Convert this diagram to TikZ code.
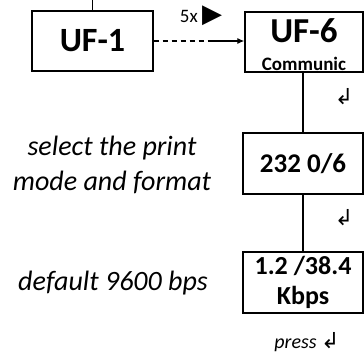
\documentclass[tikz,border=0pt]{standalone}
\usepackage{fontspec}
\setmainfont{Carlito}
\newfontfamily\symfont{DejaVu Sans}
\usetikzlibrary{arrows.meta, positioning}

\begin{document}
\begin{tikzpicture}[
  x=1pt, y=-1pt,
  box/.style={draw, line width=1.3pt, inner sep=0pt, font=\bfseries},
  note/.style={font=\itshape\fontsize{28}{35}\selectfont, align=center},
  link/.style={line width=1.2pt},
  ret/.style={font=\symfont\fontsize{22}{22}\selectfont}
]
\useasboundingbox (0,0) rectangle (364,356);

\node[box, minimum width=121pt, minimum height=60pt,
  font=\bfseries\fontsize{34}{34}\selectfont] (uf1) at (92.5,41) {UF-1};
\node[box, minimum width=118pt, minimum height=60pt] (uf6) at (304,42) {};
\node[font=\bfseries\fontsize{35}{35}\selectfont, inner sep=0pt] (uf6t) at (304,31) {UF-6};
\node[font=\bfseries\fontsize{19}{19}\selectfont, inner sep=0pt, anchor=base] (uf6s) at (304,70) {Communic};

\node[box, minimum width=120pt, minimum height=61pt,
  font=\bfseries\fontsize{27}{27}\selectfont] (mode) at (303,163.5) {232 0/6};
\node[box, minimum width=120pt, minimum height=61pt, align=center,
  font=\bfseries\fontsize{26}{30}\selectfont] (baud) at (303,282.5) {1.2 /38.4\\Kbps};

\coordinate (top) at (92.5,0);
\coordinate (dash) at (213,41);
\draw[link] (uf1) -- (top);
\draw[link, dashed, dash pattern=on 5pt off 4pt] (uf1.east) -- (dash);
\draw[link, -{Latex[length=7pt, width=6pt]}] (dash) -- (uf6.west |- dash);
\node[font=\fontsize{19}{19}\selectfont] (times) at (201,16) {5x {\symfont\fontsize{26}{26}\selectfont ▶}};

\draw[link] (uf6.south -| mode) -- (mode);
\draw[link] (mode) -- (baud);
\node[ret] (ret1) at (344,97) {↲};
\node[ret] (ret2) at (344,218) {↲};

\node[note] (sel) at (112,165) {select the print\\mode and format};
\node[note] (dflt) at (113,283) {default 9600 bps};
\node[font=\itshape\fontsize{20}{20}\selectfont] (press) at (307,342) {press {\symfont\fontsize{22}{22}\selectfont ↲}};
\end{tikzpicture}
\end{document}
